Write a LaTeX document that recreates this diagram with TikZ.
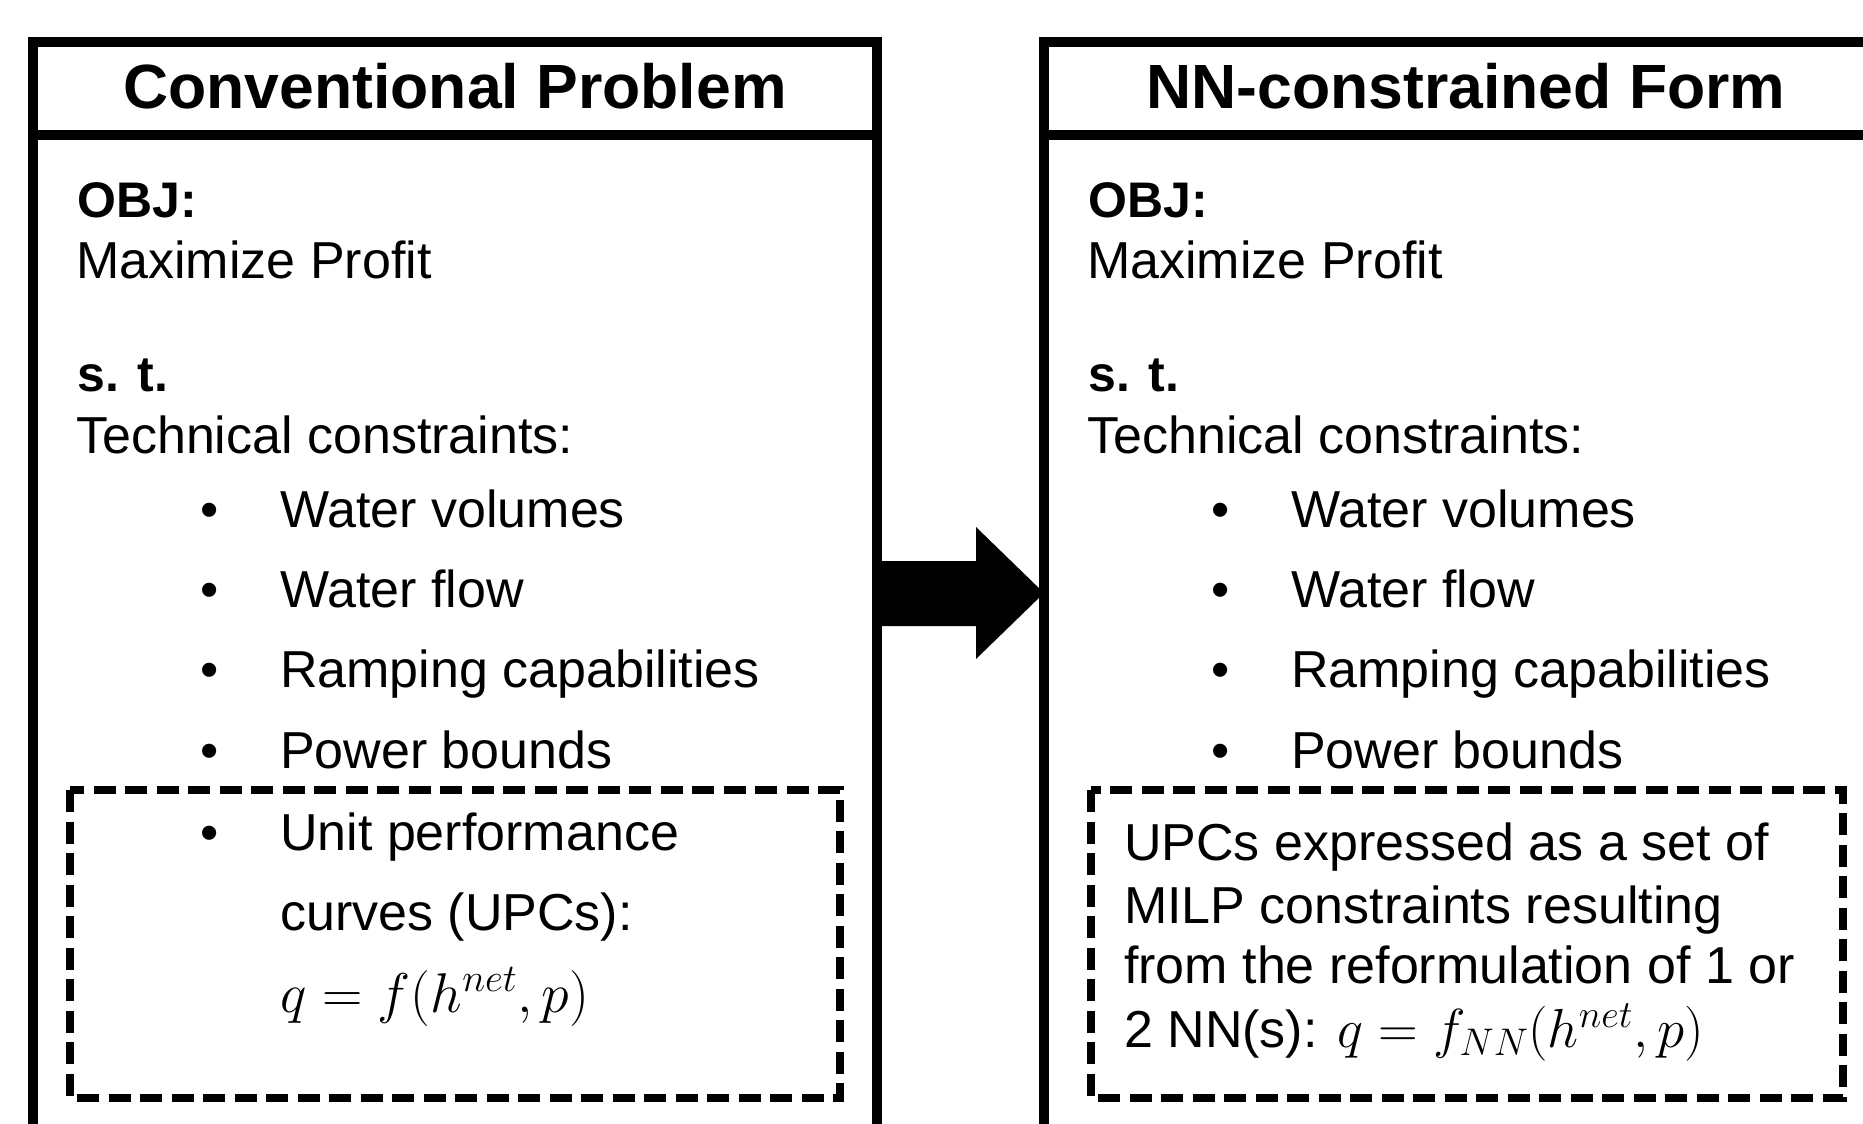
\RequirePackage{fix-cm}
\documentclass[tikz,border=0pt]{standalone}
\usepackage{fontspec}
\setmainfont{Liberation Sans}
\usetikzlibrary{calc}
\begin{document}
\begin{tikzpicture}[x=1pt,y=-1pt,
  frame/.style={draw=black,line width=10.5pt,minimum width=844pt,minimum height=1108pt,anchor=north west,inner sep=0pt,outer sep=0pt},
  upcbox/.style={draw=black,line width=7.5pt,dash pattern=on 22pt off 9.5pt},
  ttl/.style={anchor=base,inner sep=0pt,font=\fontsize{62.5}{70}\bfseries},
  hd/.style={anchor=base west,inner sep=0pt,font=\fontsize{50}{58}\bfseries},
  txt/.style={anchor=base west,inner sep=0pt,font=\fontsize{52}{60}\selectfont},
  mth/.style={anchor=base west,inner sep=0pt,font=\fontsize{56}{64}\selectfont},
  bul/.style={anchor=base,inner sep=0pt,font=\fontsize{52}{60}\selectfont},
  sep/.style={draw=black,line width=10.5pt},
  bigarrow/.style={fill=black}
]
\path[use as bounding box] (0,0) rectangle (1863,1124);
\clip (0,0) rectangle (1863,1124);

% frames
\node[frame] (L) at (33,42) {};
\node[frame] (R) at (1044,42) {};
\draw[sep] (L.west |- 0,135) -- (L.east |- 0,135);
\draw[sep] (R.west |- 0,135) -- (R.east |- 0,135);

% titles
\node[ttl] (Lt) at (455,108) {Conventional Problem};
\node[ttl] (Rt) at (1466,108) {NN-constrained Form};

% dashed UPC boxes
\draw[upcbox] (70,790) rectangle (840,1098);
\draw[upcbox] (1091,790) rectangle (1843,1098);

% arrow
\fill[bigarrow] (L.east |- 0,561) -- (976,561) -- (976,527) -- (R.west |- 0,593)
  -- (976,659) -- (976,626) -- (L.east |- 0,626) -- cycle;

% left content
\node[hd]  (lobj)  at (77,217) {OBJ:};
\node[txt] (lmax)  at (76,278) {Maximize Profit};
\node[hd]  (lst)   at (77,391) {s. t.};
\node[txt] (ltech) at (76,453) {Technical constraints:};
\node[bul] (lb1) at (210,527) {\textbullet};
\node[bul] (lb2) at (210,607) {\textbullet};
\node[bul] (lb3) at (210,687) {\textbullet};
\node[bul] (lb4) at (210,768) {\textbullet};
\node[bul] (lb5) at (210,850) {\textbullet};
\node[txt] (li1) at (280,527) {Water volumes};
\node[txt] (li2) at (280,607) {Water flow};
\node[txt] (li3) at (280,687) {Ramping capabilities};
\node[txt] (li4) at (280,768) {Power bounds};
\node[txt] (li5) at (280,850) {Unit performance};
\node[txt] (li6) at (280,930) {curves (UPCs):};
\node[mth] (leq) at (280,1012) {$q=f(h^{net},p)$};

% right content
\node[hd]  (robj)  at (1088,217) {OBJ:};
\node[txt] (rmax)  at (1087,278) {Maximize Profit};
\node[hd]  (rst)   at (1088,391) {s. t.};
\node[txt] (rtech) at (1087,453) {Technical constraints:};
\node[bul] (rb1) at (1221,527) {\textbullet};
\node[bul] (rb2) at (1221,607) {\textbullet};
\node[bul] (rb3) at (1221,687) {\textbullet};
\node[bul] (rb4) at (1221,768) {\textbullet};
\node[txt] (ri1) at (1291,527) {Water volumes};
\node[txt] (ri2) at (1291,607) {Water flow};
\node[txt] (ri3) at (1291,687) {Ramping capabilities};
\node[txt] (ri4) at (1291,768) {Power bounds};
\node[txt] (rl1) at (1124,860) {UPCs expressed as a set of};
\node[txt] (rl2) at (1124,923) {MILP constraints resulting};
\node[txt] (rl3) at (1124,983) {from the reformulation of 1 or};
\node[txt] (rl4) at (1124,1047) {2 NN(s): {\fontsize{55}{62}\selectfont$q=f_{NN}(h^{net},p)$}};
\end{tikzpicture}
\end{document}
